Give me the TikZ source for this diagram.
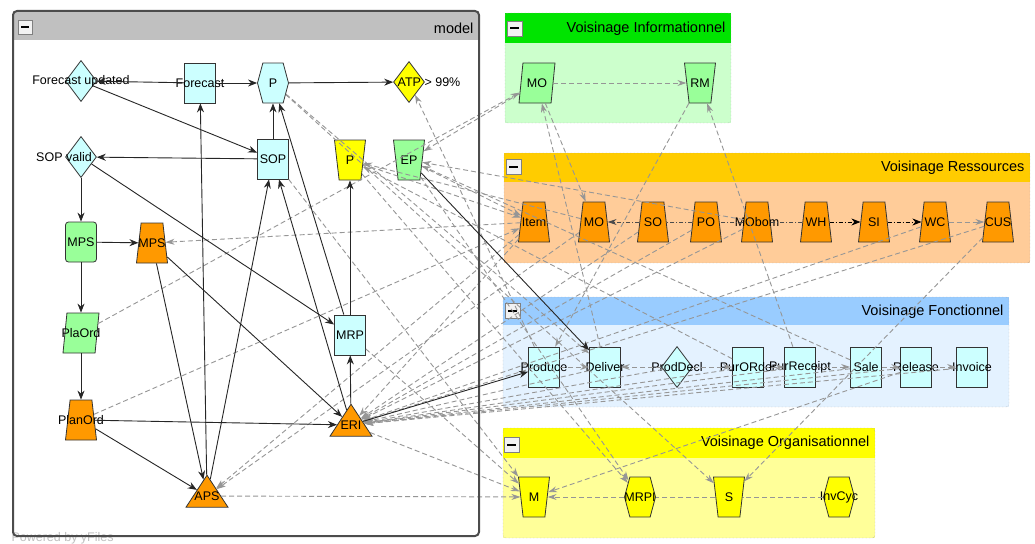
\documentclass[tikz,border=0pt]{standalone}
\usepackage{fontspec}
\setmainfont{Liberation Sans}
\usetikzlibrary{shapes.geometric, shapes.symbols, arrows.meta, positioning}
\definecolor{nodecyan}{RGB}{204,255,255}
\definecolor{nodegreen}{RGB}{153,255,153}
\definecolor{nodeorange}{RGB}{255,153,0}
\definecolor{nodeyellow}{RGB}{255,255,0}
\definecolor{edgegray}{RGB}{150,150,150}
\definecolor{modelhead}{RGB}{192,192,192}
\definecolor{infohead}{RGB}{0,228,0}
\definecolor{infobody}{RGB}{204,255,204}
\definecolor{reshead}{RGB}{255,204,0}
\definecolor{resbody}{RGB}{255,204,153}
\definecolor{fonchead}{RGB}{153,204,255}
\definecolor{foncbody}{RGB}{228,242,255}
\definecolor{orghead}{RGB}{255,255,0}
\definecolor{orgbody}{RGB}{255,255,153}

\tikzset{
  base/.style={draw=black!80, line width=0.8pt, inner sep=0.5pt, minimum width=31pt, minimum height=40pt},
  procbox/.style={base, rectangle, fill=nodecyan},
  decision/.style={base, diamond, fill=nodecyan, minimum width=31pt, minimum height=41pt},
  roundbox/.style={base, rectangle, rounded corners=3pt, fill=nodegreen},
  slanted/.style={base, trapezium, trapezium left angle=82, trapezium right angle=98, trapezium stretches=true, minimum width=36pt, fill=nodegreen},
  narrowtop/.style={base, trapezium, trapezium left angle=78, trapezium right angle=78, trapezium stretches=true, fill=nodeorange},
  widetop/.style={base, trapezium, trapezium left angle=102, trapezium right angle=102, trapezium stretches=true},
  hexa/.style={base, signal, signal to=east and west, signal pointer angle=150},
  triangle/.style={base, isosceles triangle, isosceles triangle stretches, shape border rotate=90, fill=nodeorange, minimum width=42pt, minimum height=32pt},
  flow/.style={draw=black!85, line width=0.9pt, -{Stealth[length=9pt,width=7pt]}},
  link/.style={draw=edgegray, dash pattern=on 5pt off 3pt, line width=0.9pt, -{Stealth[length=9pt,width=6pt]}},
  chain/.style={draw=black!70, dash pattern=on 4pt off 2pt on 1pt off 2pt, line width=0.8pt},
  paneltitle/.style={anchor=east, font=\fontsize{14.5}{16}\selectfont},
  button/.style={draw=black!50, fill=black!5, line width=0.6pt}
}

\begin{document}
\begin{tikzpicture}[x=1pt, y=-1pt, font=\fontsize{12.5}{14}\selectfont]
\useasboundingbox (0,0) rectangle (1035,543);

% group panels
\fill[white] (13,11) rectangle (479,536);
\fill[modelhead] (13,11) rectangle (479,40);
\node[paneltitle] at (477,28) {model};
\draw[button] (18,20) rectangle (32,34);
\draw[line width=2pt] (21,27) -- (29,27);

\fill[infobody] (505,13) rectangle (731,123);
\fill[infohead] (505,13) rectangle (731,43);
\draw[black!40, densely dotted, rounded corners=3pt] (505,13) rectangle (731,123);
\node[paneltitle] at (729,29) {Voisinage Informationnel};
\draw[button] (507,21) rectangle (522,36);
\draw[line width=2pt] (510,28.5) -- (519,28.5);

\fill[resbody] (504,153) rectangle (1030,263);
\fill[reshead] (504,153) rectangle (1030,182);
\draw[black!40, densely dotted, rounded corners=3pt] (504,153) rectangle (1030,263);
\node[paneltitle] at (1028,168) {Voisinage Ressources};
\draw[button] (506,159) rectangle (521,174);
\draw[line width=2pt] (509,166.5) -- (518,166.5);

\fill[foncbody] (503,297) rectangle (1009,407);
\fill[fonchead] (503,297) rectangle (1009,325);
\draw[black!40, densely dotted, rounded corners=3pt] (503,297) rectangle (1009,407);
\node[paneltitle] at (1007,312) {Voisinage Fonctionnel};
\draw[button] (505,303) rectangle (520,318);
\draw[line width=2pt] (508,310.5) -- (517,310.5);

\fill[orgbody] (503,428) rectangle (875,538);
\fill[orghead] (503,428) rectangle (875,458);
\draw[black!40, densely dotted, rounded corners=3pt] (503,428) rectangle (875,538);
\node[paneltitle] at (873,443) {Voisinage Organisationnel};
\draw[button] (504,437) rectangle (519,452);
\draw[line width=2pt] (507,444.5) -- (516,444.5);

\node[anchor=base west, text=black!25] at (8,541) {Powered by yFiles};

% model
\node[decision, label={center:Forecast updated}] (fcupd) at (81,81) {};
\node[procbox, label={center:Forecast}] (fcst) at (200,83) {};
\node[hexa, fill=nodecyan, label={center:P}] (pc) at (273,83) {};
\node[decision, fill=nodeyellow, label={[xshift=20pt]center:ATP > 99\%}] (atp) at (409,82) {};
\node[decision, label={[xshift=-17pt]center:SOP valid}] (sopv) at (81,157) {};
\node[procbox, label={center:SOP}] (sop) at (273,159) {};
\node[widetop, fill=nodeyellow, label={center:P}] (py) at (350,160) {};
\node[widetop, fill=nodegreen, label={center:EP}] (ep) at (409,160) {};
\node[roundbox, label={center:MPS}] (mpsg) at (81,242) {};
\node[narrowtop, label={center:MPS}] (mpso) at (152,243) {};
\node[slanted, label={center:PlaOrd}] (plaord) at (81,333) {};
\node[procbox, label={center:MRP}] (mrp) at (350,335) {};
\node[narrowtop, label={center:PlanOrd}] (planord) at (81,420) {};
\node[triangle, label={center:ERI}] (eri) at (351,425) {};
\node[triangle, label={center:APS}] (aps) at (207,496) {};

% voisinage informationnel
\node[slanted, label={center:MO}] (moi) at (537,83) {};
\node[widetop, fill=nodegreen, label={center:RM}] (rm) at (700,83) {};

% voisinage ressources
\node[narrowtop, label={center:Item}] (item) at (534,222) {};
\node[narrowtop, label={center:MO}] (mor) at (594,222) {};
\node[narrowtop, label={center:SO}] (so) at (653,222) {};
\node[narrowtop, label={center:PO}] (po) at (706,222) {};
\node[narrowtop, label={center:MObom}] (mobom) at (757,222) {};
\node[narrowtop, label={center:WH}] (wh) at (816,222) {};
\node[narrowtop, label={center:SI}] (si) at (874,222) {};
\node[narrowtop, label={center:WC}] (wc) at (935,222) {};
\node[narrowtop, label={center:CUS}] (cus) at (998,222) {};

% voisinage fonctionnel
\node[procbox, label={center:Produce}] (produce) at (544,367) {};
\node[procbox, label={center:Deliver}] (deliver) at (605,367) {};
\node[decision, label={center:ProdDecl}] (proddecl) at (677,367) {};
\node[procbox, label={center:PurORder}] (purorder) at (748,367) {};
\node[procbox, label={center:PurReceipt}] (purreceipt) at (800,367) {};
\node[procbox, label={center:Sale}] (sale) at (866,367) {};
\node[procbox, label={center:Release}] (release) at (916,367) {};
\node[procbox, label={center:Invoice}] (invoice) at (972,367) {};

% voisinage organisationnel
\node[widetop, fill=nodeyellow, label={center:M}] (m) at (534,497) {};
\node[hexa, fill=nodeyellow, label={center:MRPI}] (mrpi) at (640,497) {};
\node[widetop, fill=nodeyellow, label={center:S}] (s) at (729,497) {};
\node[hexa, fill=nodeyellow, label={center:InvCyc}] (invcyc) at (839,497) {};

% gray dependencies
\draw[link] (moi) -- (rm);
\draw[link] (plaord) -- (moi);
\draw[link] (moi) -- (ep);
\draw[link] (rm) -- (produce);
\draw[link] (purreceipt) -- (rm);
\draw[link] (deliver) -- (moi);
\draw[link] (moi) -- (mor);
\draw[link] (item) -- (mpso);
\draw[link] (py) -- (item);
\draw[link] (ep) -- (item);
\draw[link] (planord) -- (item);
\draw[link] (item) -- (aps);
\draw[link] (mor) -- (aps);
\draw[link] (aps) -- (m);
\draw[link] (eri) -- (m);
\foreach \src in {deliver, proddecl, purorder, purreceipt, sale, release, invoice, item, so, po, mobom, wc, cus}
  \draw[link] (\src) -- (eri);
\draw[link] (produce) -- (deliver);
\draw[link] (proddecl) -- (deliver);
\draw[link] (proddecl) -- (purorder);
\draw[link] (purorder) -- (purreceipt);
\draw[link] (purreceipt) -- (sale);
\draw[link] (sale) -- (release);
\draw[link] (release) -- (invoice);
\draw[link] (mrpi) -- (m);
\draw[link, -] (s) -- (mrpi);
\draw[link, -] (invcyc) -- (s);
\draw[link] (py) -- (mrpi);
\draw[link] (ep) -- (mrpi);
\draw[link] (pc) -- (s);
\draw[link] (cus) -- (s);
\draw[link] (release) -- (m);
\draw[link] (sop) -- (m);
\draw[link] (mrp) -- (m);
\draw[link] (produce) -- (atp);
\draw[link] (pc) -- (deliver);
\draw[link] (sale) -- (ep);
\draw[link] (mobom) -- (ep);
\draw[link] (purorder) -- (py);
\draw[link] (mor) -- (py);
\draw[link] (wc) -- (cus);

% resource chain
\draw[chain, -{Stealth[length=9pt,width=6pt]}] (so) -- (mor);
\draw[chain] (po) -- (so);
\draw[chain] (mobom) -- (po);
\draw[chain] (wh) -- (mobom);
\draw[chain, -{Stealth[length=9pt,width=7pt]}, draw=black] (wh) -- (si);
\draw[chain, -{Stealth[length=9pt,width=7pt]}, draw=black] (si) -- (wc);

% model frame over the crossing lines
\draw[black!70, line width=2pt, rounded corners=4pt] (13,11) rectangle (479,536);

% model flows
\draw[flow] (fcst) -- (fcupd);
\draw[flow] (fcst) -- (pc);
\draw[flow] (pc) -- (atp);
\draw[flow] (fcupd) -- (sop);
\draw[flow] (sop) -- (sopv);
\draw[flow] (sop) -- (pc);
\draw[flow] (sopv) -- (mpsg);
\draw[flow] (sopv) -- (mrp);
\draw[flow] (mpsg) -- (mpso);
\draw[flow] (mpsg) -- (plaord);
\draw[flow] (plaord) -- (planord);
\draw[flow] (planord) -- (eri);
\draw[flow] (planord) -- (aps);
\draw[flow] (mpso) -- (eri);
\draw[flow] (mpso) -- (aps);
\draw[flow] (aps) -- (fcst);
\draw[flow] (aps) -- (sop);
\draw[flow] (eri) -- (sop);
\draw[flow] (mrp) -- (pc);
\draw[flow] (mrp) -- (py);
\draw[flow] (eri) -- (mrp);
\draw[flow] (ep) -- (deliver);
\draw[flow] (eri) -- (produce);
\end{tikzpicture}
\end{document}
